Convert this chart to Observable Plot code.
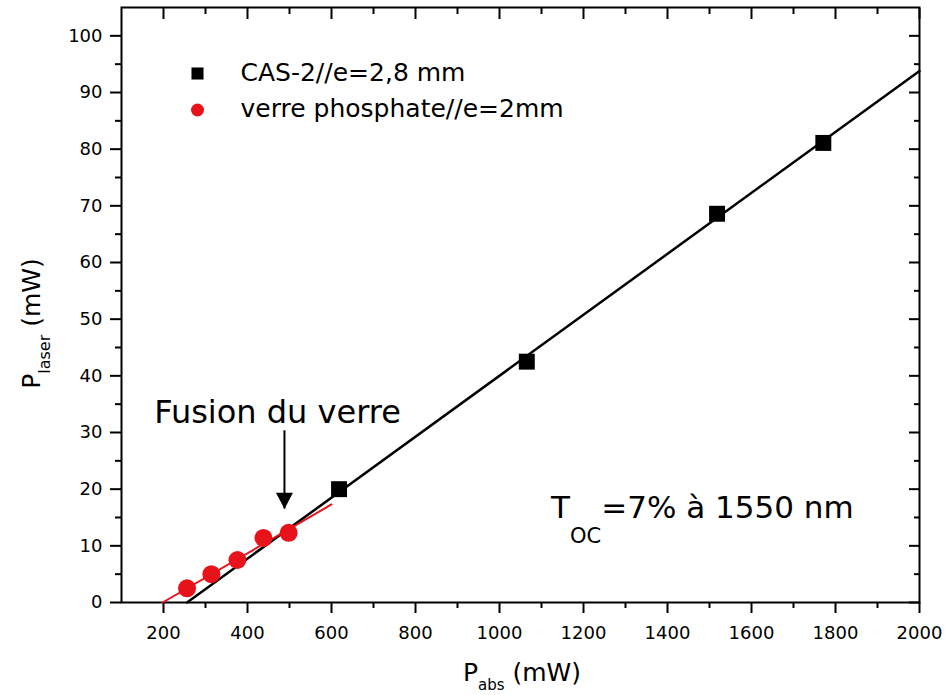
<!DOCTYPE html>
<html><head><meta charset="utf-8">
<script src="https://cdn.jsdelivr.net/npm/d3@7"></script>
<script src="https://cdn.jsdelivr.net/npm/@observablehq/plot@0.6"></script>
<style>body{margin:0;background:#fff}</style>
</head><body><div id="chart"></div>
<script>
// ---- data ----
const casX = [618, 1065, 1518, 1771];
const casY = [20.0, 42.5, 68.6, 81.1];
const phosX = [256, 314, 376, 438, 498];
const phosY = [2.5, 5.0, 7.5, 11.4, 12.3];
const casFitX = [256, 2000];
const casFitY = [0, 93.8];
const phosFitX = [198, 600];
const phosFitY = [0, 17.3];
const xMajor = [200, 400, 600, 800, 1000, 1200, 1400, 1600, 1800, 2000];
const xMinor = [300, 500, 700, 900, 1100, 1300, 1500, 1700, 1900];
const yMajor = [0, 10, 20, 30, 40, 50, 60, 70, 80, 90, 100];
const yMinor = [5, 15, 25, 35, 45, 55, 65, 75, 85, 95];
const legendLabels = ["CAS-2//e=2,8 mm", "verre phosphate//e=2mm"];
const legendSymbols = ["square", "circle"];
const arrowX = [488];
const arrowFrom = [30.3];
const arrowTo = [16.5];
const fusionLabel = ["Fusion du verre"];
const fusionX = [178];
const fusionY = [33.5];
const tocMain = "T", tocSub = "OC", tocRest = "=7% à 1550 nm";
const tocX = 1124, tocY = 14.8;
const xLabelMain = "P", xLabelSub = "abs", xLabelRest = " (mW)";
const yLabelMain = "P", yLabelSub = "laser", yLabelRest = " (mW)";

const RED = "#e8121a";
const W = 946, H = 695, ML = 121, MR = 27, MT = 7, MB = 93;

const cas = casX.map((x, i) => ({x, y: casY[i]}));
const phos = phosX.map((x, i) => ({x, y: phosY[i]}));
const casFit = casFitX.map((x, i) => ({x, y: casFitY[i]}));
const phosFit = phosFitX.map((x, i) => ({x, y: phosFitY[i]}));
const legendColors = ["#000", RED];
const legendR = [6.8, 6.5];
const arrow = arrowX.map((x, i) => ({x, y1: arrowFrom[i], y2: arrowTo[i]}));

const downTriangle = {
  draw(context, size) {
    const r = Math.sqrt(size / Math.PI);
    context.moveTo(-r, -1.9 * r);
    context.lineTo(r, -1.9 * r);
    context.lineTo(0, 0);
    context.closePath();
  }
};

const legendMarks = legendLabels.flatMap((label, i) => [
  Plot.dot([label], {frameAnchor: "top-left", dx: 76, dy: 66 + 36.5 * i, symbol: legendSymbols[i], r: legendR[i], fill: legendColors[i], stroke: "none"}),
  Plot.text([label], {frameAnchor: "top-left", dx: 119, dy: 65 + 36.5 * i, text: d => d, textAnchor: "start", lineAnchor: "middle", fontSize: 25, fill: "#000"})
]);

const plot = Plot.plot({
  width: W, height: H,
  marginLeft: ML, marginRight: MR, marginTop: MT, marginBottom: MB,
  style: {fontFamily: "DejaVu Sans", background: "#fff", color: "#000"},
  x: {domain: [100, 2000]},
  y: {domain: [0, 105]},
  marks: [
    Plot.axisX({anchor: "bottom", ticks: xMajor, tickSize: 11, strokeWidth: 2, text: null, label: null}),
    Plot.axisX({anchor: "bottom", ticks: xMinor, tickSize: 6, strokeWidth: 2, text: null, label: null}),
    Plot.axisX({anchor: "top", ticks: xMajor, tickSize: -11, strokeWidth: 2, text: null, label: null}),
    Plot.axisX({anchor: "top", ticks: xMinor, tickSize: -6, strokeWidth: 2, text: null, label: null}),
    Plot.axisY({anchor: "left", ticks: yMajor, tickSize: 11, strokeWidth: 2, text: null, label: null}),
    Plot.axisY({anchor: "left", ticks: yMinor, tickSize: 6, strokeWidth: 2, text: null, label: null}),
    Plot.axisY({anchor: "right", ticks: yMajor, tickSize: -11, strokeWidth: 2, text: null, label: null}),
    Plot.axisY({anchor: "right", ticks: yMinor, tickSize: -6, strokeWidth: 2, text: null, label: null}),
    // tick labels
    Plot.text(xMajor, {x: d => d, frameAnchor: "bottom", dy: 24, lineAnchor: "top", text: d => String(d), fontSize: 18, fill: "#000"}),
    Plot.text(yMajor, {y: d => d, frameAnchor: "left", dx: -19, textAnchor: "end", lineAnchor: "middle", text: d => String(d), fontSize: 18, fill: "#000"}),
    Plot.frame({stroke: "#000", strokeWidth: 2}),
    Plot.line(casFit, {x: "x", y: "y", stroke: "#000", strokeWidth: 2.5}),
    Plot.line(phosFit, {x: "x", y: "y", stroke: RED, strokeWidth: 2}),
    Plot.dot(phos, {x: "x", y: "y", r: 9, fill: RED, stroke: "none"}),
    Plot.dot(cas, {x: "x", y: "y", r: 9, symbol: "square", fill: "#000", stroke: "none"}),
    Plot.ruleX(arrow, {x: "x", y1: "y1", y2: "y2", stroke: "#000", strokeWidth: 2}),
    Plot.dot(arrow, {x: "x", y: "y2", r: 8.5, symbol: downTriangle, fill: "#000", stroke: "none"}),
    Plot.text(fusionLabel, {x: fusionX, y: fusionY, text: d => d, textAnchor: "start", lineAnchor: "middle", fontSize: 32, fill: "#000"}),
    ...legendMarks
  ]
});
document.getElementById("chart").appendChild(plot);

const svg = d3.select(plot);
// text with subscripts, positioned through the plot's scales
const sx = plot.scale("x"), sy = plot.scale("y");
const g = svg.append("g").attr("font-family", "DejaVu Sans").attr("fill", "#000");

function subText(sel, main, sub, rest, subSize, shift) {
  sel.append("tspan").text(main);
  sel.append("tspan").attr("font-size", subSize).attr("dy", shift).text(sub);
  sel.append("tspan").attr("dy", -shift).text(rest);
}

subText(g.append("text").attr("x", sx.apply(tocX)).attr("y", sy.apply(tocY))
    .attr("text-anchor", "start").attr("font-size", 31),
  tocMain, tocSub, tocRest, 21, 25);

const frameCx = (ML + (W - MR)) / 2;
subText(g.append("text").attr("x", frameCx + 2).attr("y", H - 14).attr("text-anchor", "middle").attr("font-size", 25),
  xLabelMain, xLabelSub, xLabelRest, 15, 9);

const frameCy = (MT + (H - MB)) / 2;
subText(g.append("text").attr("transform", `translate(40,${frameCy + 19}) rotate(-90)`).attr("text-anchor", "middle").attr("font-size", 25),
  yLabelMain, yLabelSub, yLabelRest, 16, 10);
</script>
</body></html>
